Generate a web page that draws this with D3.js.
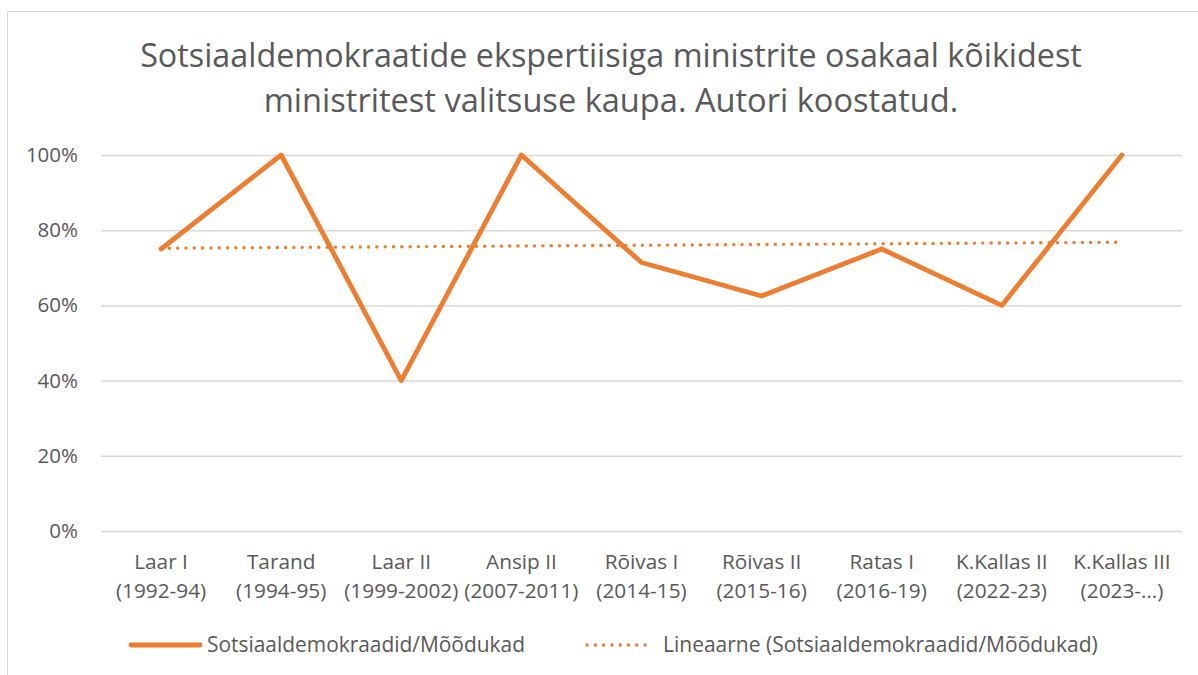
<!DOCTYPE html>
<html>
<head>
<meta charset="utf-8">
<script src="https://cdn.jsdelivr.net/npm/d3@7"></script>
<style>
  html, body { margin: 0; padding: 0; background: #fff; }
  svg { display: block; font-family: "Open Sans", "Noto Sans", sans-serif; }
</style>
</head>
<body>
<svg id="chart" width="1198" height="675"></svg>
<script>
// ---- data ----
const titleLines = ["Sotsiaaldemokraatide ekspertiisiga ministrite osakaal kõikidest",
                    "ministritest valitsuse kaupa. Autori koostatud."];
const categoryNames = ["Laar I", "Tarand", "Laar II", "Ansip II", "Rõivas I", "Rõivas II", "Ratas I", "K.Kallas II", "K.Kallas III"];
const categoryYears = ["(1992-94)", "(1994-95)", "(1999-2002)", "(2007-2011)", "(2014-15)", "(2015-16)", "(2016-19)", "(2022-23)", "(2023-…)"];
const seriesValues = [0.75, 1.00, 0.40, 1.00, 0.714, 0.625, 0.75, 0.60, 1.00];
const trendValues = [0.752, 0.768]; // linear trend at first and last category
const yTicks = [0, 0.2, 0.4, 0.6, 0.8, 1.0];
const seriesName = "Sotsiaaldemokraadid/Mõõdukad";
const trendName = "Lineaarne (Sotsiaaldemokraadid/Mõõdukad)";

// ---- layout ----
const W = 1198, H = 675;
const plot = { left: 101, right: 1182, top: 155, bottom: 531 };
const orange = "#ED7D31", textColor = "#595959", gridColor = "#D9D9D9";

const svg = d3.select("#chart");

// chart frame (only top and left visible in reference)
svg.append("line").attr("x1", 7.5).attr("x2", W).attr("y1", 11.5).attr("y2", 11.5)
  .attr("stroke", gridColor).attr("stroke-width", 1);
svg.append("line").attr("x1", 7.5).attr("x2", 7.5).attr("y1", 11.5).attr("y2", H)
  .attr("stroke", gridColor).attr("stroke-width", 1);

function fitText(sel, target) {
  const base = parseFloat(sel.attr("font-size"));
  const len = sel.node().getComputedTextLength();
  sel.attr("font-size", (base * target / len).toFixed(2));
}

// title
const titleSpecs = [{ y: 67, w: 942 }, { y: 112, w: 695 }];
titleLines.forEach((t, i) => {
  const tx = svg.append("text").attr("x", 611).attr("y", titleSpecs[i].y)
    .attr("text-anchor", "middle").attr("fill", textColor)
    .attr("font-size", 30).text(t);
  fitText(tx, titleSpecs[i].w);
});

// scales
const x = d3.scaleBand().domain(categoryNames).range([plot.left, plot.right]);
const y = d3.scaleLinear().domain([0, 1]).range([plot.bottom, plot.top]);
const cx = d => x(d) + x.bandwidth() / 2;

// y axis + gridlines
const yAxis = d3.axisLeft(y).tickValues(yTicks).tickFormat(d3.format(".0%"))
  .tickSize(-(plot.right - plot.left)).tickPadding(23);
const gy = svg.append("g").attr("transform", `translate(${plot.left},0)`).call(yAxis);
gy.select(".domain").remove();
gy.selectAll(".tick line").attr("stroke", gridColor).attr("stroke-width", 1.5);
gy.selectAll(".tick text").attr("fill", textColor).attr("font-size", 20.5)
  .attr("font-family", "'Open Sans', sans-serif");

// x axis labels (two lines)
const xAxis = d3.axisBottom(x).tickSize(0).tickFormat(() => "");
const gx = svg.append("g").attr("transform", `translate(0,${plot.bottom})`).call(xAxis);
gx.select(".domain").remove();
gx.selectAll(".tick").each(function(d, i) {
  const g = d3.select(this);
  g.select("text").remove();
  const t = g.append("text").attr("text-anchor", "middle").attr("fill", textColor)
    .attr("font-size", 20.8).attr("font-family", "'Open Sans', sans-serif");
  t.append("tspan").attr("x", 0).attr("y", 569 - plot.bottom).text(d);
  t.append("tspan").attr("x", 0).attr("y", 598 - plot.bottom).text(categoryYears[i]);
});

// trend line (dotted)
const trendLine = d3.line().x(d => cx(d.c)).y(d => y(d.v));
svg.append("path")
  .datum([{ c: categoryNames[0], v: trendValues[0] }, { c: categoryNames[categoryNames.length - 1], v: trendValues[1] }])
  .attr("d", trendLine).attr("fill", "none").attr("stroke", orange)
  .attr("stroke-width", 3.4).attr("stroke-linecap", "round").attr("stroke-dasharray", "0.1 8.2");

// main series
const line = d3.line().x((d, i) => cx(categoryNames[i])).y(d => y(d));
svg.append("path").datum(seriesValues).attr("d", line)
  .attr("fill", "none").attr("stroke", orange).attr("stroke-width", 4.8)
  .attr("stroke-linejoin", "round").attr("stroke-linecap", "round");

// legend
const legY = 645;
svg.append("line").attr("x1", 131).attr("x2", 200).attr("y1", legY).attr("y2", legY)
  .attr("stroke", orange).attr("stroke-width", 4.8).attr("stroke-linecap", "round");
const l1 = svg.append("text").attr("x", 207).attr("y", 652).attr("fill", textColor)
  .attr("font-size", 20).text(seriesName);
fitText(l1, 318);
svg.append("line").attr("x1", 587).attr("x2", 653).attr("y1", legY).attr("y2", legY)
  .attr("stroke", orange).attr("stroke-width", 3.4).attr("stroke-linecap", "round")
  .attr("stroke-dasharray", "0.1 8.2");
const l2 = svg.append("text").attr("x", 663).attr("y", 652).attr("fill", textColor)
  .attr("font-size", 20).text(trendName);
fitText(l2, 435);
</script>
</body>
</html>
